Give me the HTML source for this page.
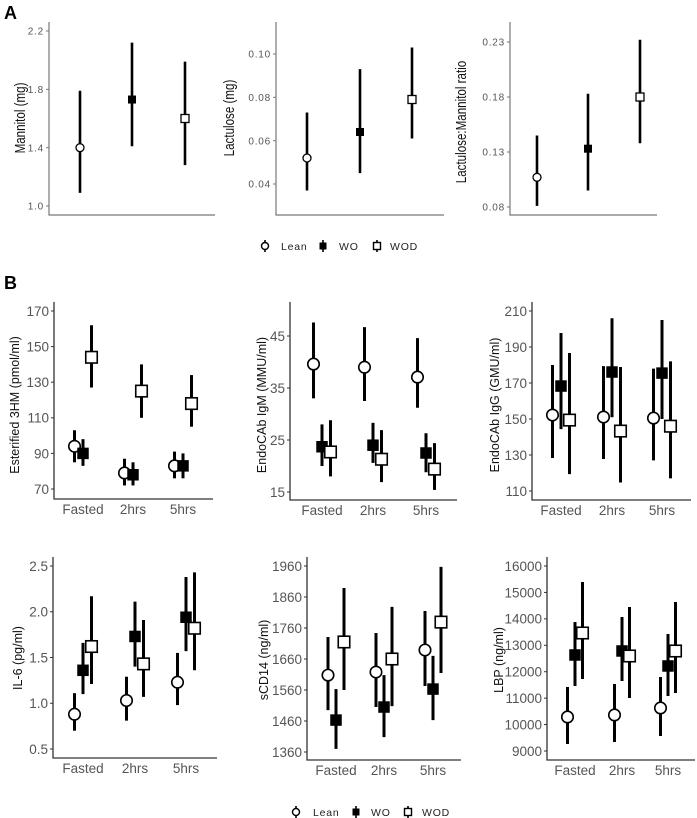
<!DOCTYPE html>
<html><head><meta charset="utf-8">
<style>
html,body{margin:0;padding:0;background:#fff;}
svg{display:block;font-family:"Liberation Sans",sans-serif;}
</style></head>
<body>
<svg id="fig" width="697" height="818" viewBox="0 0 697 818" xmlns="http://www.w3.org/2000/svg">
<text x="4" y="19" font-size="18" font-weight="bold">A</text>
<text x="4" y="289" font-size="18" font-weight="bold">B</text>
<g id="legA"></g>
<g id="legB"></g>
</svg>
<script>
const groups=['Lean','WO','WOD'];
const timeCats=['Fasted','2hrs','5hrs'];
// Panel A
const mannitolMean=[1.40,1.73,1.60];
const mannitolLo=[1.09,1.41,1.28];
const mannitolHi=[1.79,2.12,1.99];
const mannitolTicks=[1.0,1.4,1.8,2.2];
const mannitolTickLabels=['1.0','1.4','1.8','2.2'];
const lactuloseMean=[0.052,0.064,0.079];
const lactuloseLo=[0.037,0.045,0.061];
const lactuloseHi=[0.073,0.093,0.103];
const lactuloseTicks=[0.04,0.06,0.08,0.10];
const lactuloseTickLabels=['0.04','0.06','0.08','0.10'];
const ratioMean=[0.107,0.133,0.180];
const ratioLo=[0.081,0.095,0.138];
const ratioHi=[0.145,0.183,0.232];
const ratioTicks=[0.08,0.13,0.18,0.23];
const ratioTickLabels=['0.08','0.13','0.18','0.23'];
// Panel B: rows = Lean, WO, WOD; columns = Fasted, 2hrs, 5hrs
const hm3Mean=[[94,79,83],[90,78,83],[144,125,118]];
const hm3Lo=[[85,72,76],[83,72,76],[127,110,105]];
const hm3Hi=[[103,87,91],[98,85,90],[162,140,134]];
const hm3Ticks=[70,90,110,130,150,170];
const igmMean=[[39.6,39.0,37.1],[23.7,24.0,22.5],[22.7,21.3,19.4]];
const igmLo=[[33,32.5,31.2],[20,20.6,18.8],[18,16.9,15.4]];
const igmHi=[[47.6,46.7,44.6],[28,28.3,26.3],[28.8,26.9,24.4]];
const igmTicks=[15,25,35,45];
const iggMean=[[152.2,151.1,150.5],[168.3,176.1,175.5],[149.4,143.3,146]];
const iggLo=[[128.3,127.8,127],[144.4,151,150],[119.4,114.7,117]];
const iggHi=[[180,179.4,178],[197.8,206,205],[186.7,178.9,182]];
const iggTicks=[110,130,150,170,190,210];
const il6Mean=[[0.88,1.03,1.23],[1.36,1.73,1.94],[1.62,1.43,1.82]];
const il6Lo=[[0.70,0.81,0.98],[1.10,1.40,1.57],[1.21,1.07,1.36]];
const il6Hi=[[1.11,1.29,1.55],[1.66,2.11,2.38],[2.17,1.91,2.43]];
const il6Ticks=[0.5,1.0,1.5,2.0,2.5];
const il6TickLabels=['0.5','1.0','1.5','2.0','2.5'];
const cd14Mean=[[1608,1618,1689],[1463,1505,1563],[1715,1660,1779]];
const cd14Lo=[[1495,1505,1573],[1370,1408,1463],[1560,1508,1615]];
const cd14Hi=[[1731,1744,1815],[1563,1608,1670],[1889,1828,1957]];
const cd14Ticks=[1360,1460,1560,1660,1760,1860,1960];
const lbpMean=[[10287,10363,10628],[12633,12784,12217],[13465,12595,12784]];
const lbpLo=[[9265,9341,9568],[11460,11649,11081],[11725,11006,11195]];
const lbpHi=[[11422,11535,11800],[13881,14070,13427],[15395,14449,14638]];
const lbpTicks=[9000,10000,11000,12000,13000,14000,15000,16000];

const NS='http://www.w3.org/2000/svg';
const svg=document.getElementById('fig');
function mk(tag,attrs,parent){const e=document.createElementNS(NS,tag);for(const k in attrs)e.setAttribute(k,attrs[k]);(parent||svg).appendChild(e);return e;}

function marker(g,grp,cx,cy,s,sw){
  let m;
  if(grp===0){m=mk('circle',{cx:cx,cy:cy,r:s/2,fill:'#fff',stroke:'#000','stroke-width':sw},g);}
  else if(grp===1){m=mk('rect',{x:cx-s/2,y:cy-s/2,width:s,height:s,fill:'#000'},g);}
  else{m=mk('rect',{x:cx-s/2,y:cy-s/2,width:s,height:s,fill:'#fff',stroke:'#000','stroke-width':sw},g);}
  
  
}

function panel(c){
  const g=mk('g',{});
  
  
  const t0=c.ticks[0],t1=c.ticks[c.ticks.length-1];
  const y=v=>c.py0+(v-t0)*(c.py1-c.py0)/(t1-t0);
  const ax=mk('path',{d:`M${c.x0},${c.top}V${c.bottom}H${c.x1}`,fill:'none',stroke:c.axisColor,'stroke-width':c.axisW},g);
  
  
  c.ticks.forEach((v,i)=>{
    const tk=mk('line',{x1:c.x0-3,x2:c.x0,y1:y(v),y2:y(v),stroke:c.axisColor,'stroke-width':1},g);
    
    
    const tl=mk('text',{x:c.x0-5,y:y(v)+c.fs*0.36,'font-size':c.fs,'text-anchor':'end',fill:'#555','letter-spacing':c.ls||0},g);
    tl.textContent=c.labels?c.labels[i]:String(v);
    
    
  });
  const tt=mk('text',{transform:`translate(${c.tx},${c.ty}) rotate(-90)`,'font-size':c.tfs,'text-anchor':'middle',fill:'#111'},g);
  if(c.condensed)tt.setAttribute('transform',`translate(${c.tx},${c.ty}) rotate(-90) scale(0.8,1)`);
  tt.textContent=c.title;
  
  
  if(c.cats){
    c.cats.forEach((cat,i)=>{
      const xl=mk('text',{x:c.catX[i],y:c.bottom+15,'font-size':13.5,'text-anchor':'middle',fill:'#555'},g);
      xl.textContent=cat;
      
      
    });
  }
  if(c.simple){
    c.mean.forEach((m,i)=>{
      const x=c.catX[i];
      const l=mk('line',{x1:x,x2:x,y1:y(c.lo[i]),y2:y(c.hi[i]),stroke:'#000','stroke-width':c.lw},g);
      
      
      marker(g,i,x,y(m),c.ms,1.3);
    });
  } else {
    c.mean.forEach((row,gi)=>{
      row.forEach((m,ti)=>{
        const x=c.catX[ti]+c.off[gi];
        const l=mk('line',{x1:x,x2:x,y1:y(c.lo[gi][ti]),y2:y(c.hi[gi][ti]),stroke:'#000','stroke-width':c.lw},g);
        
        
        marker(g,gi,x,y(m),c.ms,1.6);
      });
    });
  }
}
const aCfg={simple:true,axisColor:'#777',axisW:1.2,top:22,bottom:215,fs:10,ls:0.8,tfs:14.5,condensed:true,lw:2.6,ms:8};
panel(Object.assign({},aCfg,{name:'mannitol-chart',x0:49,x1:215,ticks:mannitolTicks,labels:mannitolTickLabels,py0:206,py1:31,catX:[80,132,185],mean:mannitolMean,lo:mannitolLo,hi:mannitolHi,title:'Mannitol (mg)',tx:25,ty:118}));
panel(Object.assign({},aCfg,{name:'lactulose-chart',x0:276,x1:444,ticks:lactuloseTicks,labels:lactuloseTickLabels,py0:184,py1:54,catX:[307,360,412],mean:lactuloseMean,lo:lactuloseLo,hi:lactuloseHi,title:'Lactulose (mg)',tx:234,ty:118}));
panel(Object.assign({},aCfg,{name:'ratio-chart',x0:510,x1:657,ticks:ratioTicks,labels:ratioTickLabels,py0:207,py1:42,catX:[537,588,640],mean:ratioMean,lo:ratioLo,hi:ratioHi,title:'Lactulose:Mannitol ratio',tx:466,ty:122}));
const bCfg={axisColor:'#333',axisW:1.3,fs:13.5,tfs:12.5,lw:3,ms:11.5,cats:timeCats};
panel(Object.assign({},bCfg,{name:'3hm-chart',x0:54,x1:213,top:302,bottom:499,ticks:hm3Ticks,py0:489,py1:311,catX:[83,133,183],off:[-8.5,0,8.5],mean:hm3Mean,lo:hm3Lo,hi:hm3Hi,title:'Esterified 3HM (pmol/ml)',tx:19,ty:405}));
panel(Object.assign({},bCfg,{name:'igm-chart',x0:290,x1:457,top:302,bottom:500,ticks:igmTicks,py0:492,py1:336,catX:[322,373,426],off:[-8.5,0,8.5],mean:igmMean,lo:igmLo,hi:igmHi,title:'EndoCAb IgM (MMU/ml)',tx:266,ty:405}));
panel(Object.assign({},bCfg,{name:'igg-chart',x0:532,x1:691,top:302,bottom:500,ticks:iggTicks,py0:491,py1:311,catX:[561,612,662],off:[-8.5,0,8.5],mean:iggMean,lo:iggLo,hi:iggHi,title:'EndoCAb IgG (GMU/ml)',tx:499,ty:405}));
panel(Object.assign({},bCfg,{name:'il6-chart',x0:53,x1:217,top:557,bottom:758,ticks:il6Ticks,labels:il6TickLabels,py0:749,py1:566,catX:[83,135,186],off:[-8.5,0,8.5],mean:il6Mean,lo:il6Lo,hi:il6Hi,title:'IL-6 (pg/ml)',tx:22,ty:658}));
panel(Object.assign({},bCfg,{name:'scd14-chart',x0:307,x1:461,top:557,bottom:760,ticks:cd14Ticks,py0:752,py1:566,catX:[336,384,433],off:[-8,0,8],mean:cd14Mean,lo:cd14Lo,hi:cd14Hi,title:'sCD14 (ng/ml)',tx:268,ty:660}));
panel(Object.assign({},bCfg,{name:'lbp-chart',x0:547,x1:695,top:557,bottom:760,ticks:lbpTicks,py0:751,py1:566,catX:[575,622,668],off:[-7.5,0,7.5],mean:lbpMean,lo:lbpLo,hi:lbpHi,title:'LBP (ng/ml)',tx:503,ty:660}));

function legend(id,y,items){
  const g=document.getElementById(id);
  items.forEach((it,i)=>{
    const e=mk('g',{},g);
    
    
    mk('line',{x1:it[0],x2:it[0],y1:y-6,y2:y+6,stroke:'#000','stroke-width':1.6},e);
    marker(e,i,it[0],y,7,1.4);
    const t=mk('text',{x:it[1],y:y+4,'font-size':10.5,fill:'#222','letter-spacing':0.8},e);
    t.textContent=groups[i];
  });
}
legend('legA',246,[[265,281],[323,339],[377,390]]);
legend('legB',812,[[296,313],[356,371],[408,422]]);
</script>
</body></html>
